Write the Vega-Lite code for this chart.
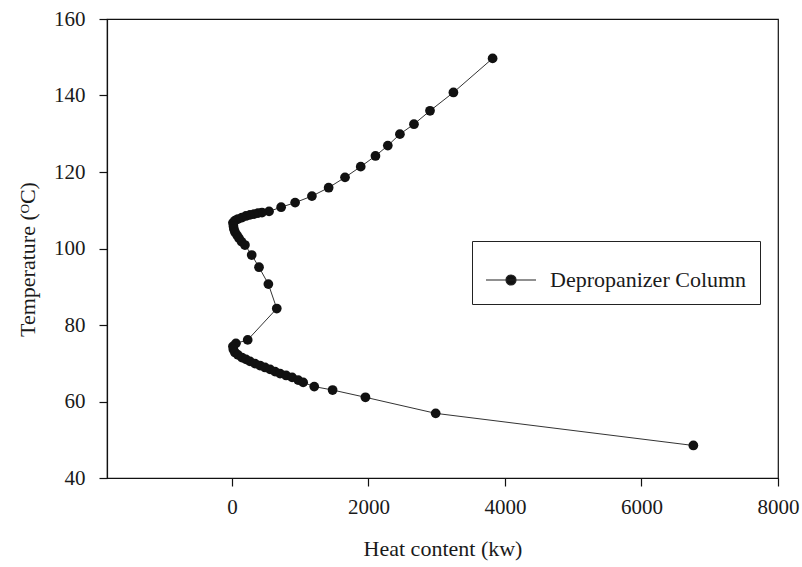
{
  "$schema": "https://vega.github.io/schema/vega-lite/v6.json",
  "width": 671,
  "height": 459,
  "autosize": {"type": "none"},
  "padding": {"left": 107, "top": 19, "right": 24, "bottom": 89},
  "background": "white",
  "config": {
    "view": {"stroke": "#111", "strokeWidth": 1.2},
    "font": "Liberation Serif",
    "axis": {
      "labelFont": "Liberation Serif",
      "titleFont": "Liberation Serif",
      "labelFontSize": 21,
      "titleFontSize": 22,
      "labelColor": "#1a1a1a",
      "titleColor": "#1a1a1a",
      "titleFontWeight": "normal",
      "domainColor": "#111",
      "domainWidth": 1.2,
      "tickColor": "#111",
      "tickWidth": 1.2,
      "tickSize": 8,
      "grid": false
    }
  },
  "data": {
    "values": [
      {"Q": 3819, "T": 149.7, "series": "Depropanizer Column"},
      {"Q": 3245, "T": 140.8, "series": "Depropanizer Column"},
      {"Q": 2902, "T": 136.0, "series": "Depropanizer Column"},
      {"Q": 2667, "T": 132.5, "series": "Depropanizer Column"},
      {"Q": 2461, "T": 129.9, "series": "Depropanizer Column"},
      {"Q": 2284, "T": 126.9, "series": "Depropanizer Column"},
      {"Q": 2103, "T": 124.2, "series": "Depropanizer Column"},
      {"Q": 1887, "T": 121.4, "series": "Depropanizer Column"},
      {"Q": 1657, "T": 118.6, "series": "Depropanizer Column"},
      {"Q": 1417, "T": 115.9, "series": "Depropanizer Column"},
      {"Q": 1172, "T": 113.7, "series": "Depropanizer Column"},
      {"Q": 926, "T": 112.0, "series": "Depropanizer Column"},
      {"Q": 721, "T": 110.8, "series": "Depropanizer Column"},
      {"Q": 544, "T": 109.7, "series": "Depropanizer Column"},
      {"Q": 441, "T": 109.4, "series": "Depropanizer Column"},
      {"Q": 382, "T": 109.25, "series": "Depropanizer Column"},
      {"Q": 324, "T": 109.0, "series": "Depropanizer Column"},
      {"Q": 265, "T": 108.8, "series": "Depropanizer Column"},
      {"Q": 206, "T": 108.5, "series": "Depropanizer Column"},
      {"Q": 147, "T": 108.1, "series": "Depropanizer Column"},
      {"Q": 88, "T": 107.7, "series": "Depropanizer Column"},
      {"Q": 44, "T": 107.3, "series": "Depropanizer Column"},
      {"Q": 15, "T": 106.7, "series": "Depropanizer Column"},
      {"Q": 22, "T": 105.9, "series": "Depropanizer Column"},
      {"Q": 29, "T": 105.1, "series": "Depropanizer Column"},
      {"Q": 44, "T": 104.3, "series": "Depropanizer Column"},
      {"Q": 74, "T": 103.5, "series": "Depropanizer Column"},
      {"Q": 103, "T": 102.7, "series": "Depropanizer Column"},
      {"Q": 140, "T": 101.8, "series": "Depropanizer Column"},
      {"Q": 191, "T": 100.9, "series": "Depropanizer Column"},
      {"Q": 290, "T": 98.3, "series": "Depropanizer Column"},
      {"Q": 397, "T": 95.1, "series": "Depropanizer Column"},
      {"Q": 534, "T": 90.7, "series": "Depropanizer Column"},
      {"Q": 657, "T": 84.3, "series": "Depropanizer Column"},
      {"Q": 231, "T": 76.1, "series": "Depropanizer Column"},
      {"Q": 59, "T": 75.2, "series": "Depropanizer Column"},
      {"Q": 15, "T": 74.4, "series": "Depropanizer Column"},
      {"Q": 22, "T": 73.6, "series": "Depropanizer Column"},
      {"Q": 44, "T": 72.8, "series": "Depropanizer Column"},
      {"Q": 88, "T": 72.2, "series": "Depropanizer Column"},
      {"Q": 147, "T": 71.5, "series": "Depropanizer Column"},
      {"Q": 206, "T": 71.0, "series": "Depropanizer Column"},
      {"Q": 265, "T": 70.5, "series": "Depropanizer Column"},
      {"Q": 338, "T": 69.9, "series": "Depropanizer Column"},
      {"Q": 412, "T": 69.4, "series": "Depropanizer Column"},
      {"Q": 485, "T": 68.9, "series": "Depropanizer Column"},
      {"Q": 559, "T": 68.4, "series": "Depropanizer Column"},
      {"Q": 632, "T": 67.8, "series": "Depropanizer Column"},
      {"Q": 706, "T": 67.3, "series": "Depropanizer Column"},
      {"Q": 794, "T": 66.8, "series": "Depropanizer Column"},
      {"Q": 882, "T": 66.3, "series": "Depropanizer Column"},
      {"Q": 971, "T": 65.6, "series": "Depropanizer Column"},
      {"Q": 1044, "T": 65.0, "series": "Depropanizer Column"},
      {"Q": 1206, "T": 63.9, "series": "Depropanizer Column"},
      {"Q": 1475, "T": 63.0, "series": "Depropanizer Column"},
      {"Q": 1956, "T": 61.1, "series": "Depropanizer Column"},
      {"Q": 2985, "T": 56.9, "series": "Depropanizer Column"},
      {"Q": 6760, "T": 48.5, "series": "Depropanizer Column"}
    ]
  },
  "encoding": {
    "x": {
      "field": "Q",
      "type": "quantitative",
      "scale": {"domain": [-1830, 8000], "nice": false, "zero": false},
      "axis": {"values": [0, 2000, 4000, 6000, 8000], "format": "d", "title": "Heat content (kw)", "titlePadding": 21, "labelPadding": 10, "labelFlush": false}
    },
    "y": {
      "field": "T",
      "type": "quantitative",
      "scale": {"domain": [40, 160], "nice": false, "zero": false},
      "axis": {"values": [40, 60, 80, 100, 120, 140, 160], "format": "d", "title": "Temperature (ᴼC)", "titlePadding": 14, "titleY": 240, "labelPadding": 14, "labelFlush": false}
    }
  },
  "layer": [
    {
      "mark": {"type": "line", "color": "#333", "strokeWidth": 1},
      "encoding": {"order": {"field": "T", "sort": "descending"}}
    },
    {
      "mark": {"type": "point", "filled": true, "opacity": 1, "size": 95, "shape": "circle"},
      "encoding": {
        "color": {
          "field": "series",
          "type": "nominal",
          "scale": {"range": ["#111"]},
          "legend": {
            "title": null,
            "orient": "none",
            "legendX": 365,
            "legendY": 222,
            "direction": "vertical",
            "padding": 13,
            "strokeColor": "#222",
            "fillColor": "white",
            "labelFont": "Liberation Serif",
            "labelFontSize": 22,
            "labelColor": "#1a1a1a",
            "labelOffset": 13,
            "labelLimit": 400,
            "symbolType": "M -1 0 L 1 0 M -0.2 0 A 0.2 0.2 0 1 1 0.2 0 A 0.2 0.2 0 1 1 -0.2 0 Z",
            "symbolSize": 2500,
            "symbolFillColor": "#111",
            "symbolStrokeColor": "#111",
            "symbolStrokeWidth": 1.2,
            "symbolOpacity": 1,
            "encode": {"symbols": {"update": {"stroke": {"value": "#222"}, "strokeWidth": {"value": 1.2}, "fill": {"value": "#111"}}}}
          }
        }
      }
    }
  ]
}
